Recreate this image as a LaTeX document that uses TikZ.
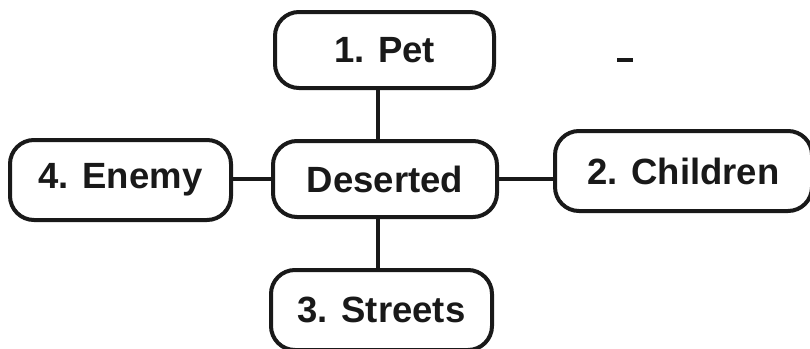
\documentclass[tikz,border=0pt]{standalone}
\usepackage{fontspec}
\setmainfont{Liberation Sans}
\begin{document}
\begin{tikzpicture}[x=1pt,y=-1pt,
  box/.style={draw=black!90, line width=4pt, rounded corners=24pt, fill=white,
    inner sep=0pt, outer sep=0pt, font=\fontsize{36.5}{40}\selectfont\bfseries, text=black!90},
  link/.style={draw=black!90, line width=4pt}]
\useasboundingbox (0,0) rectangle (810,348);
\node[box, minimum width=219pt, minimum height=76pt] (pet) at (384.5,50) {1. Pet};
\node[box, minimum width=224pt, minimum height=76pt] (des) at (385,179) {Deserted};
\node[box, minimum width=221pt, minimum height=80pt] (ene) at (120.5,180) {4. Enemy};
\node[box, minimum width=257pt, minimum height=80pt] (chi) at (683.5,171) {2. Children};
\node[box, minimum width=221pt, minimum height=80pt] (str) at (381.5,310) {3. Streets};
\coordinate (stem) at (378,0);
\draw[link] (stem |- pet.south) -- (stem |- des.north);
\draw[link] (stem |- des.south) -- (stem |- str.north);
\draw[link] (ene.east |- des.west) -- (des.west);
\draw[link] (des.east) -- (chi.west |- des.east);
\fill[black!90] (617,58) rectangle (633,62);
\end{tikzpicture}
\end{document}
